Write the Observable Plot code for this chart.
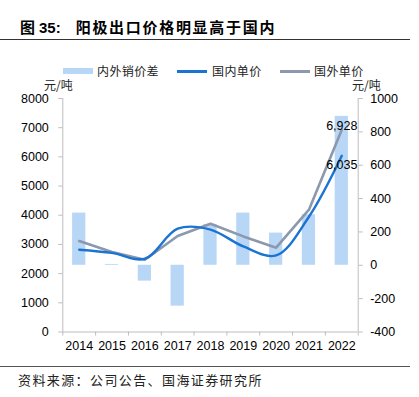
<!DOCTYPE html>
<html>
<head>
<meta charset="utf-8">
<script src="https://cdn.jsdelivr.net/npm/d3@7"></script>
<script src="https://cdn.jsdelivr.net/npm/@observablehq/plot@0.6"></script>
<style>
  html, body { margin: 0; padding: 0; background: #fff; }
  #wrap { position: relative; width: 419px; height: 397px; overflow: hidden; font-family: "Liberation Sans", "Noto Sans CJK SC", sans-serif; color: #000; }
  .abs { position: absolute; white-space: nowrap; }
  #title { left: 20px; top: 17px; font-size: 15px; font-weight: bold; font-family: "Noto Sans CJK SC", sans-serif; line-height: 20px; }
  #title .num { font-family: "Liberation Sans", sans-serif; margin-left: 4px; }
  #title .txt { margin-left: 15px; letter-spacing: 1.7px; }
  #rule1 { left: 0; top: 39px; width: 410px; height: 0; border-top: 1px solid #333; }
  #rule2 { left: 0; top: 366px; width: 410px; height: 0; border-top: 1px solid #555; }
  #footer { left: 18px; top: 371px; font-size: 13px; letter-spacing: 1.4px; font-family: "Noto Sans CJK SC", sans-serif; line-height: 17px; color: #222; }
  .legend { top: 63px; font-size: 12px; font-family: "Noto Sans CJK SC", sans-serif; line-height: 16px; letter-spacing: 0.4px; color: #222; }
  .sw { position: absolute; }
  .unit { top: 77px; font-size: 12px; font-family: "Noto Sans CJK SC", sans-serif; line-height: 16px; color: #222; }
  #chart { position: absolute; left: 0; top: 80px; }
</style>
</head>
<body>
<div id="wrap">
  <div id="title" class="abs">图<span class="num">35:</span><span class="txt">阳极出口价格明显高于国内</span></div>
  <div id="rule1" class="abs"></div>
  <div id="legend"></div>
  <div class="abs unit" style="left:44px;">元/吨</div>
  <div class="abs unit" style="left:352px;">元/吨</div>
  <div id="chart"></div>
  <div id="rule2" class="abs"></div>
  <div id="footer" class="abs">资料来源：公司公告、国海证券研究所</div>
</div>
<script>
// ---- data ----
const years = [2014, 2015, 2016, 2017, 2018, 2019, 2020, 2021, 2022];
const priceDiff = [313, 5, -95, -245, 245, 313, 193, 303, 893];      // 内外销价差 (right axis)
const domesticPrice = [2820, 2710, 2510, 3540, 3510, 2930, 2625, 3950, 6035]; // 国内单价 (left axis)
const foreignPrice = [3115, 2740, 2475, 3290, 3710, 3275, 2890, 4190, 6928];  // 国外单价 (left axis)
const leftTicks = [0, 1000, 2000, 3000, 4000, 5000, 6000, 7000, 8000];
const rightTicks = [-400, -200, 0, 200, 400, 600, 800, 1000];
const seriesNames = ["内外销价差", "国内单价", "国外单价"];
const colors = { bar: "#b8d6f6", domestic: "#1c74d2", foreign: "#8c98ad", axis: "#bdbdbd" };

// right axis [-400,1000] mapped onto left axis [0,8000]
const rMin = -400, rMax = 1000, lMin = 0, lMax = 8000;
const toLeft = v => lMin + (v - rMin) / (rMax - rMin) * (lMax - lMin);
const toRight = v => rMin + (v - lMin) / (lMax - lMin) * (rMax - rMin);

const rows = years.map((y, i) => ({
  year: y, diff: priceDiff[i], dom: domesticPrice[i], fore: foreignPrice[i]
}));
const boundaries = years.map(y => y - 0.5).concat([years[years.length - 1] + 0.5]);
const last = rows[rows.length - 1];

// ---- legend ----
const legend = document.getElementById("legend");
const legItems = [
  { name: seriesNames[0], swLeft: 63, txtLeft: 97, type: "bar", color: colors.bar },
  { name: seriesNames[1], swLeft: 177, txtLeft: 212, type: "line", color: colors.domestic },
  { name: seriesNames[2], swLeft: 280, txtLeft: 314, type: "line", color: colors.foreign }
];
legItems.forEach(it => {
  const sw = document.createElement("div");
  sw.className = "sw";
  sw.style.left = it.swLeft + "px";
  sw.style.width = "30px";
  if (it.type === "bar") { sw.style.top = "68px"; sw.style.height = "6px"; sw.style.background = it.color; }
  else { sw.style.top = "69.5px"; sw.style.height = "3px"; sw.style.background = it.color; }
  legend.appendChild(sw);
  const t = document.createElement("div");
  t.className = "abs legend";
  t.style.left = it.txtLeft + "px";
  t.textContent = it.name;
  legend.appendChild(t);
});

// ---- chart ----
const H = 280;
const chart = Plot.plot({
  width: 419,
  height: H,
  marginTop: 18,
  marginBottom: 28.5,
  marginLeft: 62.3,
  marginRight: 61.3,
  style: { fontFamily: "Liberation Sans, Arial, sans-serif", fontSize: "12.5px", background: "transparent", color: "#000" },
  x: { type: "linear", domain: [years[0] - 0.5, years[years.length - 1] + 0.5] },
  y: { domain: [lMin, lMax] },
  marks: [
    Plot.rectY(rows, {
      x1: d => d.year - 0.5, x2: d => d.year + 0.5,
      y1: () => toLeft(0), y2: d => toLeft(d.diff),
      fill: colors.bar, insetLeft: 9.8, insetRight: 9.8
    }),
    Plot.ruleX([boundaries[0]], { y1: lMin, y2: lMax, stroke: colors.axis }),
    Plot.ruleX([boundaries[boundaries.length - 1]], { y1: lMin, y2: lMax, stroke: colors.axis }),
    Plot.ruleY([lMin], { stroke: colors.axis }),
    Plot.line(rows, { x: "year", y: "fore", stroke: colors.foreign, strokeWidth: 2.6, curve: "linear" }),
    Plot.line(rows, { x: "year", y: "dom", stroke: colors.domestic, strokeWidth: 2.4, curve: "catmull-rom" }),
    Plot.text([last], { x: "year", y: "fore", text: d => d3.format(",")(d.fore), dy: -4, fill: "#000", fontSize: 12.5 }),
    Plot.text([last], { x: "year", y: "dom", text: d => d3.format(",")(d.dom), dy: 9, fill: "#000", fontSize: 12.5 }),
    Plot.axisY({ anchor: "left", ticks: leftTicks, tickSize: 4, tickPadding: 10, stroke: colors.axis, fill: "#000", tickFormat: d => String(d), label: null }),
    Plot.axisY({ anchor: "right", ticks: rightTicks.map(toLeft), tickSize: 4, tickPadding: 8, stroke: colors.axis, fill: "#000", tickFormat: d => String(Math.round(toRight(d))), label: null }),
    Plot.axisX({ ticks: boundaries, tickSize: 4, stroke: colors.axis, text: null, label: null }),
    Plot.axisX({ ticks: years, tickSize: 0, tickPadding: 9, fill: "#000", tickFormat: d => String(d), label: null })
  ]
});
document.getElementById("chart").appendChild(chart);
</script>
</body>
</html>
